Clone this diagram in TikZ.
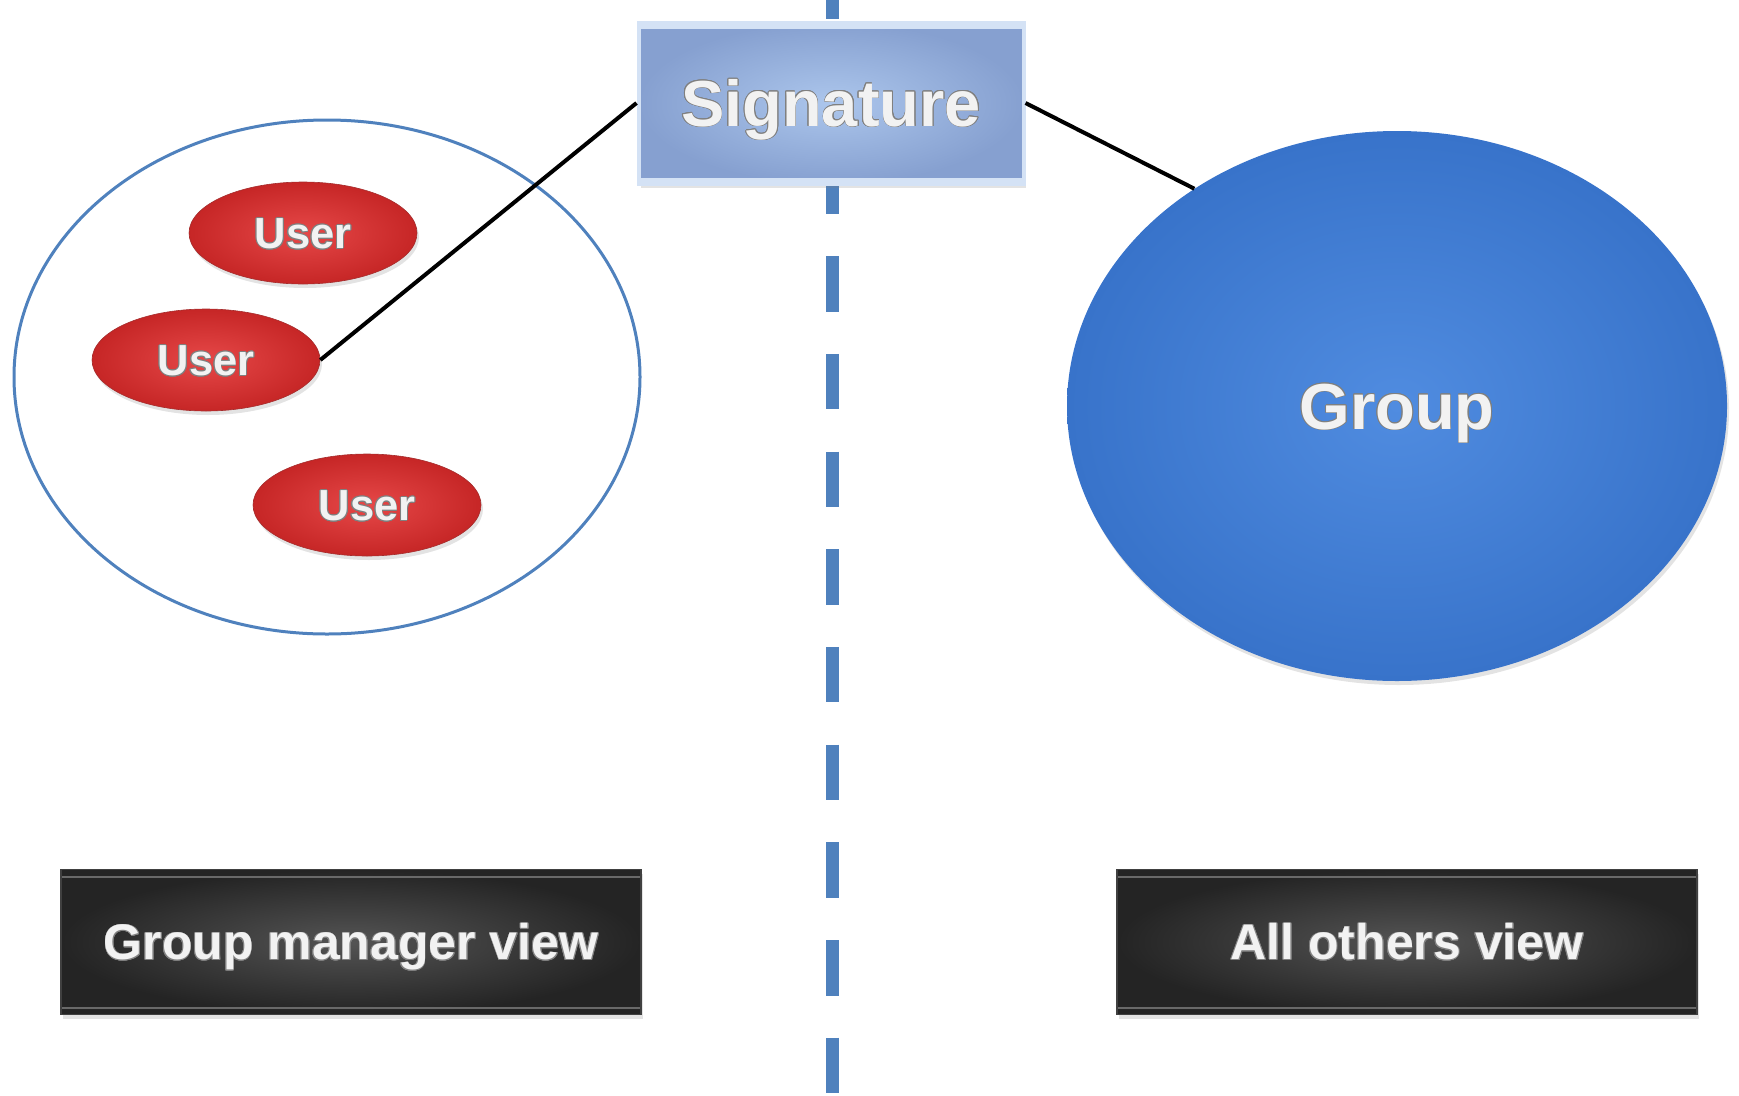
\documentclass[tikz,border=0pt]{standalone}
\usepackage{fontspec}
\newfontfamily\etiqueta{Liberation Sans}
\usepackage{contour}
\contourlength{0.7pt}
\usetikzlibrary{shapes.geometric,shadows}

\definecolor{azulLinea}{RGB}{79,129,189}
\definecolor{rojoClaro}{RGB}{230,72,72}
\definecolor{rojoOscuro}{RGB}{198,38,38}
\definecolor{rojoBorde}{RGB}{165,45,45}
\definecolor{azulClaro}{RGB}{80,140,224}
\definecolor{azulOscuro}{RGB}{56,115,202}
\definecolor{celesteClaro}{RGB}{172,198,236}
\definecolor{celesteOscuro}{RGB}{134,160,208}
\definecolor{celesteBorde}{RGB}{212,226,245}
\definecolor{grisClaro}{RGB}{84,84,84}
\definecolor{grisOscuro}{RGB}{36,36,36}
\definecolor{grisBisel}{RGB}{105,105,105}
\definecolor{textoBlanco}{RGB}{242,242,242}

\newcommand{\relieve}[1]{\contour{black!50}{#1}}

\tikzset{
  sombra/.style={drop shadow={opacity=0.22, shadow xshift=2pt, shadow yshift=-4pt}},
  texto/.style={text=textoBlanco, text height={0.716*#1}, text depth=0pt,
    font=\etiqueta\bfseries\fontsize{#1}{#1}\selectfont},
  usuario/.style={ellipse, minimum width=228pt, minimum height=102pt,
    draw=rojoBorde, line width=0.6pt, inner color=rojoClaro, outer color=rojoOscuro,
    sombra, texto=43.5pt},
  grupo/.style={ellipse, minimum width=660pt, minimum height=550pt,
    inner color=azulClaro, outer color=azulOscuro, sombra, texto=65pt},
  firma/.style={rectangle, minimum width=385pt, minimum height=161pt,
    draw=celesteBorde, line width=4pt, inner color=celesteClaro, outer color=celesteOscuro,
    sombra, texto=65pt,
    path picture={
      \draw[celesteBorde, line width=5pt]
        ([yshift=-4pt]path picture bounding box.north west) -- ([yshift=-4pt]path picture bounding box.north east);
      \draw[celesteBorde, line width=4pt]
        ([yshift=4pt]path picture bounding box.south west) -- ([yshift=4pt]path picture bounding box.south east);
    }},
  vista/.style={rectangle, minimum width=580pt, minimum height=145pt,
    draw=black!75, line width=1.5pt, inner color=grisClaro, outer color=grisOscuro,
    sombra, texto=50pt,
    path picture={
      \draw[grisBisel, line width=2pt]
        ([yshift=-7pt]path picture bounding box.north west) -- ([yshift=-7pt]path picture bounding box.north east);
      \draw[grisBisel, line width=2pt]
        ([yshift=7pt]path picture bounding box.south west) -- ([yshift=7pt]path picture bounding box.south east);
    }},
  enlace/.style={black, line width=4pt}
}

\begin{document}
\begin{tikzpicture}[x=1pt, y=-1pt]
        \useasboundingbox (0,0) rectangle (1739,1095);
        %%%%%%%%%%%%%%%%%%%%%%%% Linea divisoria %%%%%%%%%%%%%%%%%%%%%%%%%%%%%%%%%%%
        \coordinate (divArriba) at (832,-37);
        \coordinate (divAbajo) at (832,1100);
        \draw[azulLinea, line width=13pt, dash pattern=on 55.5pt off 42.2pt] (divArriba) -- (divAbajo);
        %%%%%%%%%%%%%%%%%%%%%%%% Vista del gestor %%%%%%%%%%%%%%%%%%%%%%%%%%%%%%%%%%
        \node[ellipse, draw=azulLinea, line width=3pt, minimum width=626pt, minimum height=514pt] (gestor) at (327,377) {};
        \node[usuario] (u1) at (303,233) {\relieve{User}};
        \node[usuario] (u2) at (206,360) {\relieve{User}};
        \node[usuario] (u3) at (367,505) {\relieve{User}};
        %%%%%%%%%%%%%%%%%%%%%%%% Vista de los demas %%%%%%%%%%%%%%%%%%%%%%%%%%%%%%%%%
        \node[grupo] (grp) at (1397,406) {\relieve{Group}};
        %%%%%%%%%%%%%%%%%%%%%%%% Firma y enlaces %%%%%%%%%%%%%%%%%%%%%%%%%%%%%%%%%%%
        \node[firma] (sig) at (831,103) {\relieve{Signature}};
        \draw[enlace] (sig.west) -- (u2.east); %firma -> usuario
        \draw[enlace] (sig.east) -- (grp.133); %firma -> grupo
        %%%%%%%%%%%%%%%%%%%%%%%% Etiquetas inferiores %%%%%%%%%%%%%%%%%%%%%%%%%%%%%%
        \node[vista] (vGestor) at (351,942) {\relieve{Group manager view}};
        \node[vista] (vOtros) at (1407,942) {\relieve{All others view}};
      \end{tikzpicture}
\end{document}
